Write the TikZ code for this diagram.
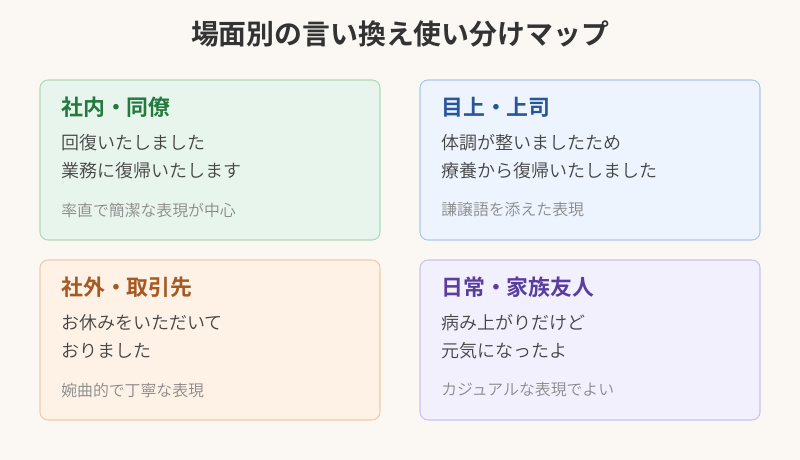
\documentclass[tikz,border=0pt]{standalone}
\usepackage{fontspec}
\setmainfont{Noto Sans CJK JP}
\newfontfamily\jpbold{Noto Sans CJK JP Bold}
\newfontfamily\jplight{Noto Sans CJK JP DemiLight}

\definecolor{paper}{HTML}{FBF8F4}
\definecolor{bodytext}{HTML}{444444}
\definecolor{titletext}{HTML}{333333}
\definecolor{subtext}{HTML}{8A8A8A}
\definecolor{greenfill}{HTML}{E8F5EC}
\definecolor{greenline}{HTML}{AEDAB9}
\definecolor{greenhead}{HTML}{237A3E}
\definecolor{bluefill}{HTML}{EDF4FE}
\definecolor{blueline}{HTML}{A9C8EC}
\definecolor{bluehead}{HTML}{28569A}
\definecolor{orangefill}{HTML}{FEF1E6}
\definecolor{orangeline}{HTML}{F0CBA8}
\definecolor{orangehead}{HTML}{A65A22}
\definecolor{purplefill}{HTML}{F3F0FE}
\definecolor{purpleline}{HTML}{CBC1EE}
\definecolor{purplehead}{HTML}{5A3E9E}

\begin{document}
\begin{tikzpicture}[x=0.75pt, y=-0.75pt,
  card/.style={draw=#1line, fill=#1fill, line width=0.8pt, rounded corners=6pt,
    minimum width=255pt, minimum height=120pt, inner sep=0pt},
  cardhead/.style={anchor=west, inner sep=0pt, text=#1head, font=\jpbold\fontsize{16.4}{19}\selectfont},
  cardline/.style={anchor=west, inner sep=0pt, text=bodytext, font=\jplight\fontsize{13.5}{16}\selectfont},
  cardnote/.style={anchor=west, inner sep=0pt, text=subtext, font=\jplight\fontsize{11.9}{14}\selectfont}]
% Background and page size
\fill[paper] (0,0) rectangle (800,460);
\useasboundingbox (0,0) rectangle (800,460);

% Title
\node[text=titletext, font=\jpbold\fontsize{20.9}{24}\selectfont] (title) at (400,34) {場面別の言い換え使い分けマップ};

% Cards
\node[card=green] (naibu) at (210,160) {};
\node[cardhead=green] (naibuhead) at (61,107) {社内・同僚};
\node[cardline] (naibuA) at (61,143) {回復いたしました};
\node[cardline] (naibuB) at (61,171) {業務に復帰いたします};
\node[cardnote] (naibunote) at (61,210) {率直で簡潔な表現が中心};

\node[card=blue] (meue) at (590,160) {};
\node[cardhead=blue] (meuehead) at (441,107) {目上・上司};
\node[cardline] (meueA) at (441,143) {体調が整いましたため};
\node[cardline] (meueB) at (441,171) {療養から復帰いたしました};
\node[cardnote] (meuenote) at (441,210) {謙譲語を添えた表現};

\node[card=orange] (shagai) at (210,340) {};
\node[cardhead=orange] (shagaihead) at (61,287) {社外・取引先};
\node[cardline] (shagaiA) at (61,323) {お休みをいただいて};
\node[cardline] (shagaiB) at (61,351) {おりました};
\node[cardnote] (shagainote) at (61,390) {婉曲的で丁寧な表現};

\node[card=purple] (nichijo) at (590,340) {};
\node[cardhead=purple] (nichijohead) at (441,287) {日常・家族友人};
\node[cardline] (nichijoA) at (441,323) {病み上がりだけど};
\node[cardline] (nichijoB) at (441,351) {元気になったよ};
\node[cardnote] (nichijonote) at (441,390) {カジュアルな表現でよい};
\end{tikzpicture}
\end{document}
